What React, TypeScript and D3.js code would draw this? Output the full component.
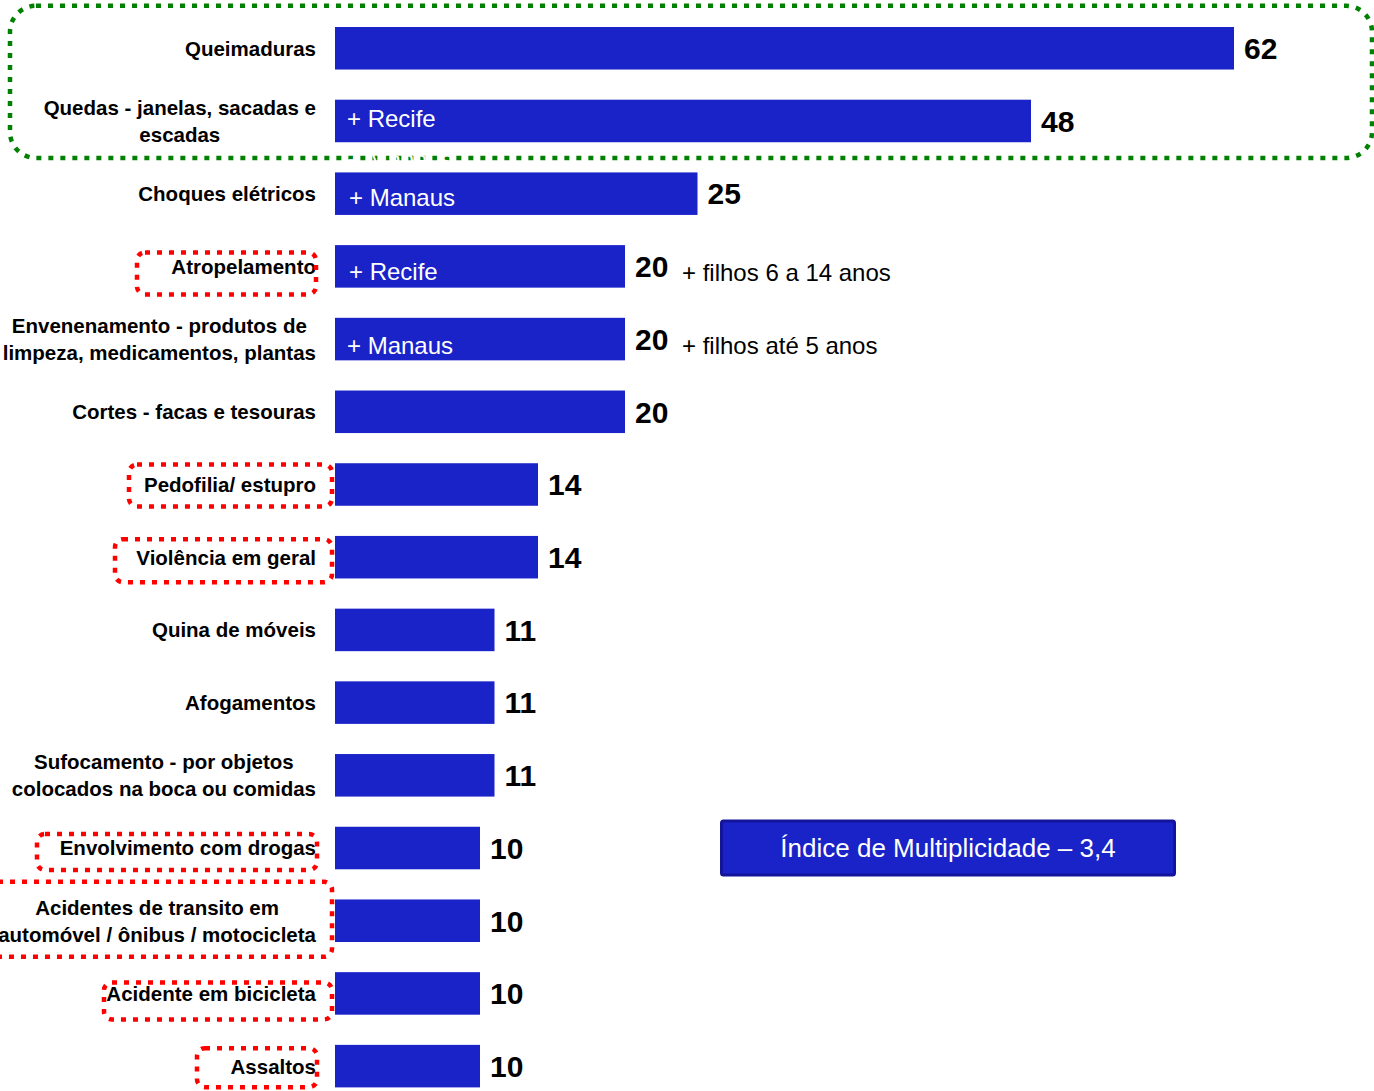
import { useEffect, useRef } from "react";
import * as d3 from "d3";

// categories (label lines) and values, top to bottom
const categories: string[][] = [
  ["Queimaduras"],
  ["Quedas - janelas, sacadas e", "escadas"],
  ["Choques elétricos"],
  ["Atropelamento"],
  ["Envenenamento - produtos de", "limpeza, medicamentos, plantas"],
  ["Cortes - facas e tesouras"],
  ["Pedofilia/ estupro"],
  ["Violência em geral"],
  ["Quina de móveis"],
  ["Afogamentos"],
  ["Sufocamento - por objetos", "colocados na boca ou comidas"],
  ["Envolvimento com drogas"],
  ["Acidentes de transito em", "automóvel / ônibus / motocicleta"],
  ["Acidente em bicicleta"],
  ["Assaltos"],
];
const values: number[] = [62, 48, 25, 20, 20, 20, 14, 14, 11, 11, 11, 10, 10, 10, 10];

// notes written inside bars (index -> text)
const inBarNotes: [number, string][] = [
  [1, "+ Recife"],
  [2, "+ Manaus"],
  [3, "+ Recife"],
  [4, "+ Manaus"],
];
// notes written after the value
const sideNotes: [number, string][] = [
  [3, "+ filhos 6 a 14 anos"],
  [4, "+ filhos até 5 anos"],
];
// rows with a red dotted frame around the label
const highlighted: number[] = [3, 6, 7, 11, 12, 13, 14];
const indexText = "Índice de Multiplicidade – 3,4";
const indexRow = 11;

const W = 1374;
const H = 1091;
const BAR = "#1a23c8";
const FONT = "'Liberation Sans', Arial, Helvetica, sans-serif";

// layout tweaks for the decorations
const noteDy: Record<number, number> = { 1: -3, 2: 4, 3: 5, 4: 6 };
const noteDx: Record<number, number> = { 1: 12, 2: 14, 3: 14, 4: 12 };
const redFrame: Record<number, [number, number, number, number]> = {
  3: [137, 316, -14, 28],
  6: [129, 332, -20, 22],
  7: [115, 332, -18, 25],
  11: [37, 317, -14, 22],
  12: [-10, 332, -39, 36],
  13: [104, 332, -11, 26],
  14: [197, 317, -18, 21],
};

export default function App() {
  const ref = useRef<SVGSVGElement | null>(null);

  useEffect(() => {
    if (!ref.current) return;
    const svg = d3.select(ref.current);
    svg.selectAll("*").remove();

    const idx = d3.range(values.length);
    const y = d3
      .scaleBand<number>()
      .domain(idx)
      .range([27, 1087.4])
      .paddingInner(0.415)
      .paddingOuter(0);
    const x = d3.scaleLinear().domain([0, 62]).range([335, 1234]);
    const cy = (i: number) => (y(i) || 0) + y.bandwidth() / 2;

    // bars
    svg
      .append("g")
      .selectAll("rect")
      .data(idx)
      .join("rect")
      .attr("x", x(0))
      .attr("y", (i) => y(i) || 0)
      .attr("width", (i) => x(values[i]) - x(0))
      .attr("height", y.bandwidth())
      .attr("fill", BAR);

    // value labels
    svg
      .append("g")
      .selectAll("text")
      .data(idx)
      .join("text")
      .attr("x", (i) => x(values[i]) + 10)
      .attr("y", (i) => cy(i))
      .attr("dy", "0.36em")
      .attr("font-family", FONT)
      .attr("font-weight", "bold")
      .attr("font-size", 30)
      .attr("fill", "#000")
      .text((i) => values[i]);

    // category labels (multi-line centred, right edge at 316)
    const labels = svg.append("g");
    idx.forEach((i) => {
      const lines = categories[i];
      const t = labels
        .append("text")
        .attr("font-family", FONT)
        .attr("font-weight", "bold")
        .attr("font-size", 20.5)
        .attr("fill", "#000")
        .attr("text-anchor", "middle");
      const lh = 27;
      const y0 = cy(i) - ((lines.length - 1) * lh) / 2;
      const spans = lines.map((ln, k) =>
        t
          .append("tspan")
          .attr("y", y0 + k * lh)
          .attr("dy", "0.36em")
          .text(ln)
      );
      const maxW = d3.max(spans, (s) => (s.node() as SVGTSpanElement).getComputedTextLength()) || 0;
      spans.forEach((s) => s.attr("x", 316 - maxW / 2));
    });

    // notes inside bars
    svg
      .append("g")
      .selectAll("text")
      .data(inBarNotes)
      .join("text")
      .attr("x", ([i]) => x(0) + noteDx[i])
      .attr("y", ([i]) => cy(i) + noteDy[i])
      .attr("dy", "0.36em")
      .attr("font-family", FONT)
      .attr("font-size", 24)
      .attr("fill", "#fff")
      .text(([, s]) => s);

    // notes after the value
    svg
      .append("g")
      .selectAll("text")
      .data(sideNotes)
      .join("text")
      .attr("x", ([i]) => x(values[i]) + 57)
      .attr("y", ([i]) => cy(i) + 6)
      .attr("dy", "0.36em")
      .attr("font-family", FONT)
      .attr("font-size", 24)
      .attr("fill", "#000")
      .text(([, s]) => s);

    // red dotted frames
    svg
      .append("g")
      .selectAll("rect")
      .data(highlighted)
      .join("rect")
      .attr("x", (i) => redFrame[i][0])
      .attr("y", (i) => cy(i) + redFrame[i][2])
      .attr("width", (i) => redFrame[i][1] - redFrame[i][0])
      .attr("height", (i) => redFrame[i][3] - redFrame[i][2])
      .attr("rx", 8)
      .attr("fill", "none")
      .attr("stroke", "#ff0000")
      .attr("stroke-width", 4.5)
      .attr("stroke-dasharray", "5 7");

    // green dotted frame around the top two rows
    const gTop = cy(0) - 42.5;
    const gBot = cy(1) + 37;
    svg
      .append("rect")
      .attr("x", 10)
      .attr("y", gTop)
      .attr("width", 1362)
      .attr("height", gBot - gTop)
      .attr("rx", 26)
      .attr("fill", "none")
      .attr("stroke", "#008000")
      .attr("stroke-width", 4.5)
      .attr("stroke-dasharray", "5 7");

    // leftover white text hidden on the green frame
    svg
      .append("text")
      .attr("x", x(0) + 12)
      .attr("y", gBot + 10)
      .attr("font-family", FONT)
      .attr("font-size", 24)
      .attr("fill", "#fff")
      .text("+ Manaus");

    // index box
    const by = cy(indexRow);
    const box = svg.append("g");
    box
      .append("rect")
      .attr("x", 721.5)
      .attr("y", by - 27)
      .attr("width", 453)
      .attr("height", 54)
      .attr("rx", 2)
      .attr("fill", BAR)
      .attr("stroke", "#14149a")
      .attr("stroke-width", 3);
    box
      .append("text")
      .attr("x", 948)
      .attr("y", by)
      .attr("dy", "0.36em")
      .attr("text-anchor", "middle")
      .attr("font-family", FONT)
      .attr("font-size", 26)
      .attr("fill", "#fff")
      .text(indexText);
  }, []);

  return (
    <svg
      ref={ref}
      width={W}
      height={H}
      style={{ position: "absolute", left: 0, top: 0, background: "#fff" }}
    />
  );
}
